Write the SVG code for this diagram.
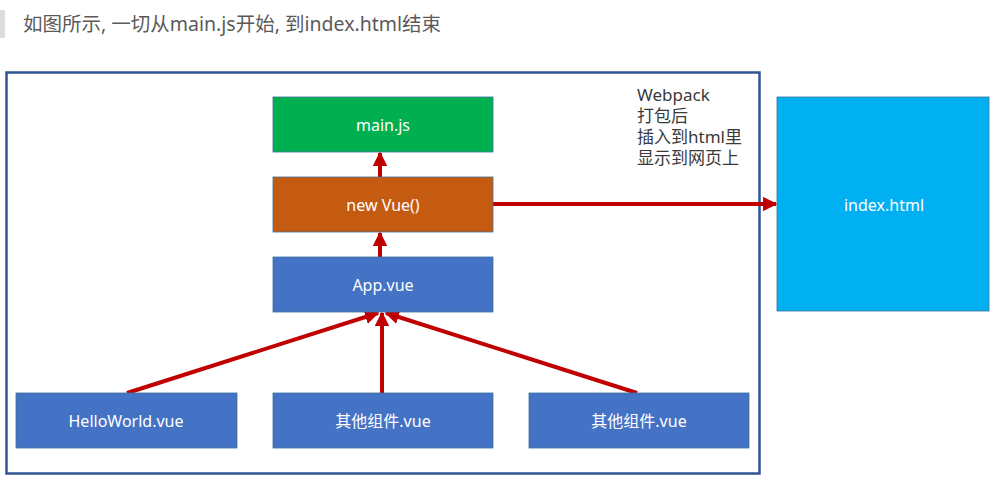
<svg xmlns="http://www.w3.org/2000/svg" width="1005" height="482" viewBox="0 0 1005 482">
<defs>
<style>
.t{font-family:"Noto Sans","Noto Sans CJK SC",sans-serif;}
.lbl{font-size:16px;fill:#ffffff;text-anchor:middle;dominant-baseline:central;}
.box{stroke:#41719c;stroke-width:0.8;}
.con{stroke:#c00000;stroke-width:4;fill:none;marker-end:url(#ah);}
</style>
<marker id="ah" viewBox="0 0 10 10" refX="9" refY="5" markerWidth="3.6" markerHeight="3.6" orient="auto" markerUnits="strokeWidth">
<path d="M0,0 L10,5 L0,10 Z" fill="#c00000"/>
</marker>
</defs>
<rect width="1005" height="482" fill="#ffffff"/>
<rect x="0" y="10" width="5" height="28" fill="#dddddd"/>
<text class="t" x="23" y="31" font-size="19.5" fill="#5a5a5a">如图所示, 一切从main.js开始, 到index.html结束</text>
<rect x="6.5" y="72.5" width="753" height="401" fill="none" stroke="#2f5597" stroke-width="2.5"/>
<g id="connectors">
<line class="con" x1="380" y1="177" x2="380" y2="153"/>
<line class="con" x1="380" y1="257" x2="380" y2="233"/>
<line class="con" x1="493" y1="204" x2="776" y2="204"/>
<line class="con" x1="127" y1="393" x2="378" y2="313"/>
<line class="con" x1="382" y1="393" x2="382" y2="313"/>
<line class="con" x1="637" y1="393" x2="386" y2="313"/>
</g>
<g id="main"><rect class="box" x="273" y="97" width="220" height="55" fill="#00b050"/><text class="t lbl" x="383" y="125">main.js</text></g>
<g id="newvue"><rect class="box" x="273" y="177" width="220" height="55" fill="#c55a11"/><text class="t lbl" x="383" y="205">new Vue()</text></g>
<g id="app"><rect class="box" x="273" y="257" width="220" height="55" fill="#4472c4"/><text class="t lbl" x="383" y="285">App.vue</text></g>
<g id="hello"><rect class="box" x="16" y="393" width="221" height="55" fill="#4472c4"/><text class="t lbl" x="126" y="421">HelloWorld.vue</text></g>
<g id="other1"><rect class="box" x="273" y="393" width="220" height="55" fill="#4472c4"/><text class="t lbl" x="383" y="421">其他组件.vue</text></g>
<g id="other2"><rect class="box" x="529" y="393" width="220" height="55" fill="#4472c4"/><text class="t lbl" x="639" y="421">其他组件.vue</text></g>
<g id="index"><rect class="box" x="777" y="97" width="212" height="214" fill="#00b0f0"/><text class="t lbl" x="884" y="205">index.html</text></g>
<g id="note" class="t" font-size="17" fill="#3a3a3a">
<text x="637" y="101">Webpack</text>
<text x="637" y="122">打包后</text>
<text x="637" y="143">插入到html里</text>
<text x="637" y="164">显示到网页上</text>
</g>
</svg>
